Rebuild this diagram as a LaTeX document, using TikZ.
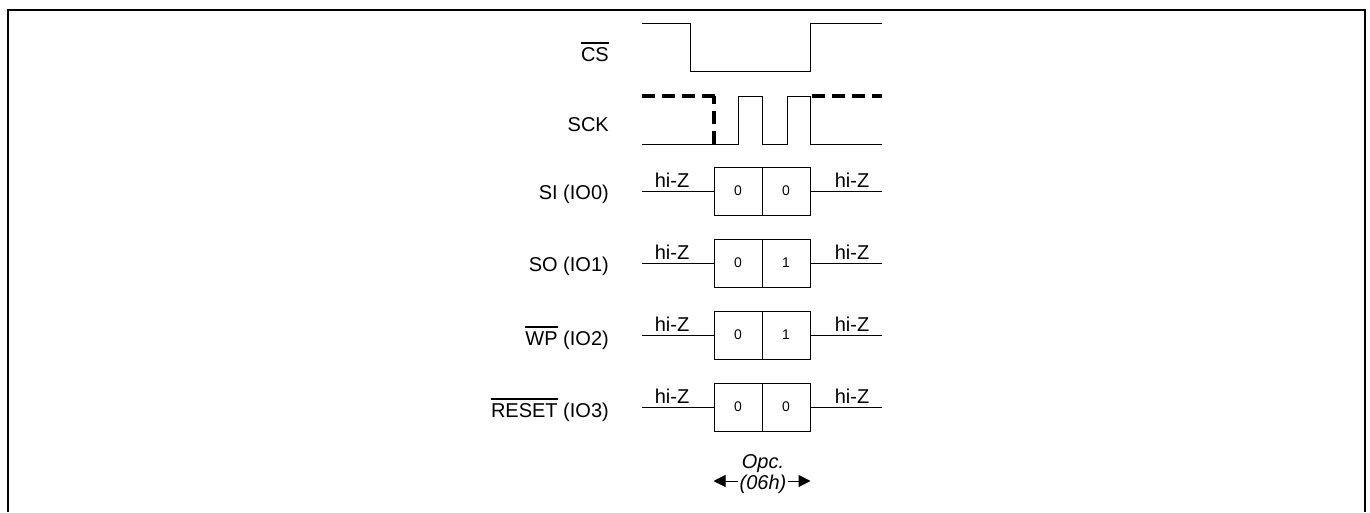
\documentclass[tikz,border=0pt]{standalone}
\usepackage{fontspec}
\setmainfont{Liberation Sans}
\usetikzlibrary{arrows.meta}
\newcommand\ovbar[1]{\leavevmode\vbox{\hrule height 1.3pt\kern 4pt\hbox{#1}}}

\begin{document}
\begin{tikzpicture}[x=1pt,y=-1pt,
    sig/.style={line width=1pt},
    undef/.style={line width=3.2pt,dash pattern=on 13pt off 7pt},
    bitbox/.style={draw,line width=1pt,minimum width=48pt,minimum height=48pt,
      inner sep=0pt,font=\fontsize{14}{16}\selectfont},
    lbl/.style={anchor=east,inner sep=0pt,font=\fontsize{20}{23}\selectfont},
    hiz/.style={anchor=south,inner sep=2pt,font=\fontsize{20}{23}\selectfont},
    opcarrow/.style={sig,-{Triangle[length=12pt,width=12pt]}}]
  \useasboundingbox (0,0) rectangle (1370,512);
  \draw[line width=2.6pt] (8,512)--(8,10)--(1365,10)--(1365,512);
  % CS and SCK
  \node[lbl] (cs) at (609,52) {\ovbar{CS}};
  \node[lbl] (sck) at (609,125) {SCK};
  \draw[sig] (642,23)--(690,23)--(690,71)--(810,71)--(810,23)--(882,23);
  \draw[undef] (642,96)--(716,96);
  \draw[undef] (714,144)--(714,96);
  \draw[sig] (642,144)--(738,144)--(738,96)--(762,96)--(762,144)--(787,144)
    --(787,96)--(810,96)--(810,144)--(882,144);
  \draw[undef] (812,96)--(882,96);
  % data lines
  \foreach \y/\txt/\a/\b [count=\i] in {191/{SI (IO0)}/0/0,263/{SO (IO1)}/0/1,
      335/{\ovbar{WP} (IO2)}/0/1,407/{\ovbar{RESET} (IO3)}/0/0}{
    \node[lbl] (io\i) at (609,\y+3) {\txt};
    \node[bitbox] (hi\i) at (738,\y) {\a};
    \node[bitbox] (lo\i) at (786,\y) {\b};
    \coordinate (s\i) at (642,\y);
    \coordinate (e\i) at (882,\y);
    \draw[sig] (s\i) -- (hi\i.west);
    \draw[sig] (lo\i.east) -- (e\i);
    \node[hiz] at (672,\y-1) {hi-Z};
    \node[hiz] at (852,\y-1) {hi-Z};
  }
  \node[font=\itshape\fontsize{20}{21}\selectfont,align=center,inner sep=1pt] (opc) at (763,474) {Opc.\\(06h)};
  \coordinate (opcy) at (763,481);
  \draw[opcarrow] (opc.west |- opcy) -- (hi4.west |- opcy);
  \draw[opcarrow] (opc.east |- opcy) -- (lo4.east |- opcy);
\end{tikzpicture}
\end{document}
